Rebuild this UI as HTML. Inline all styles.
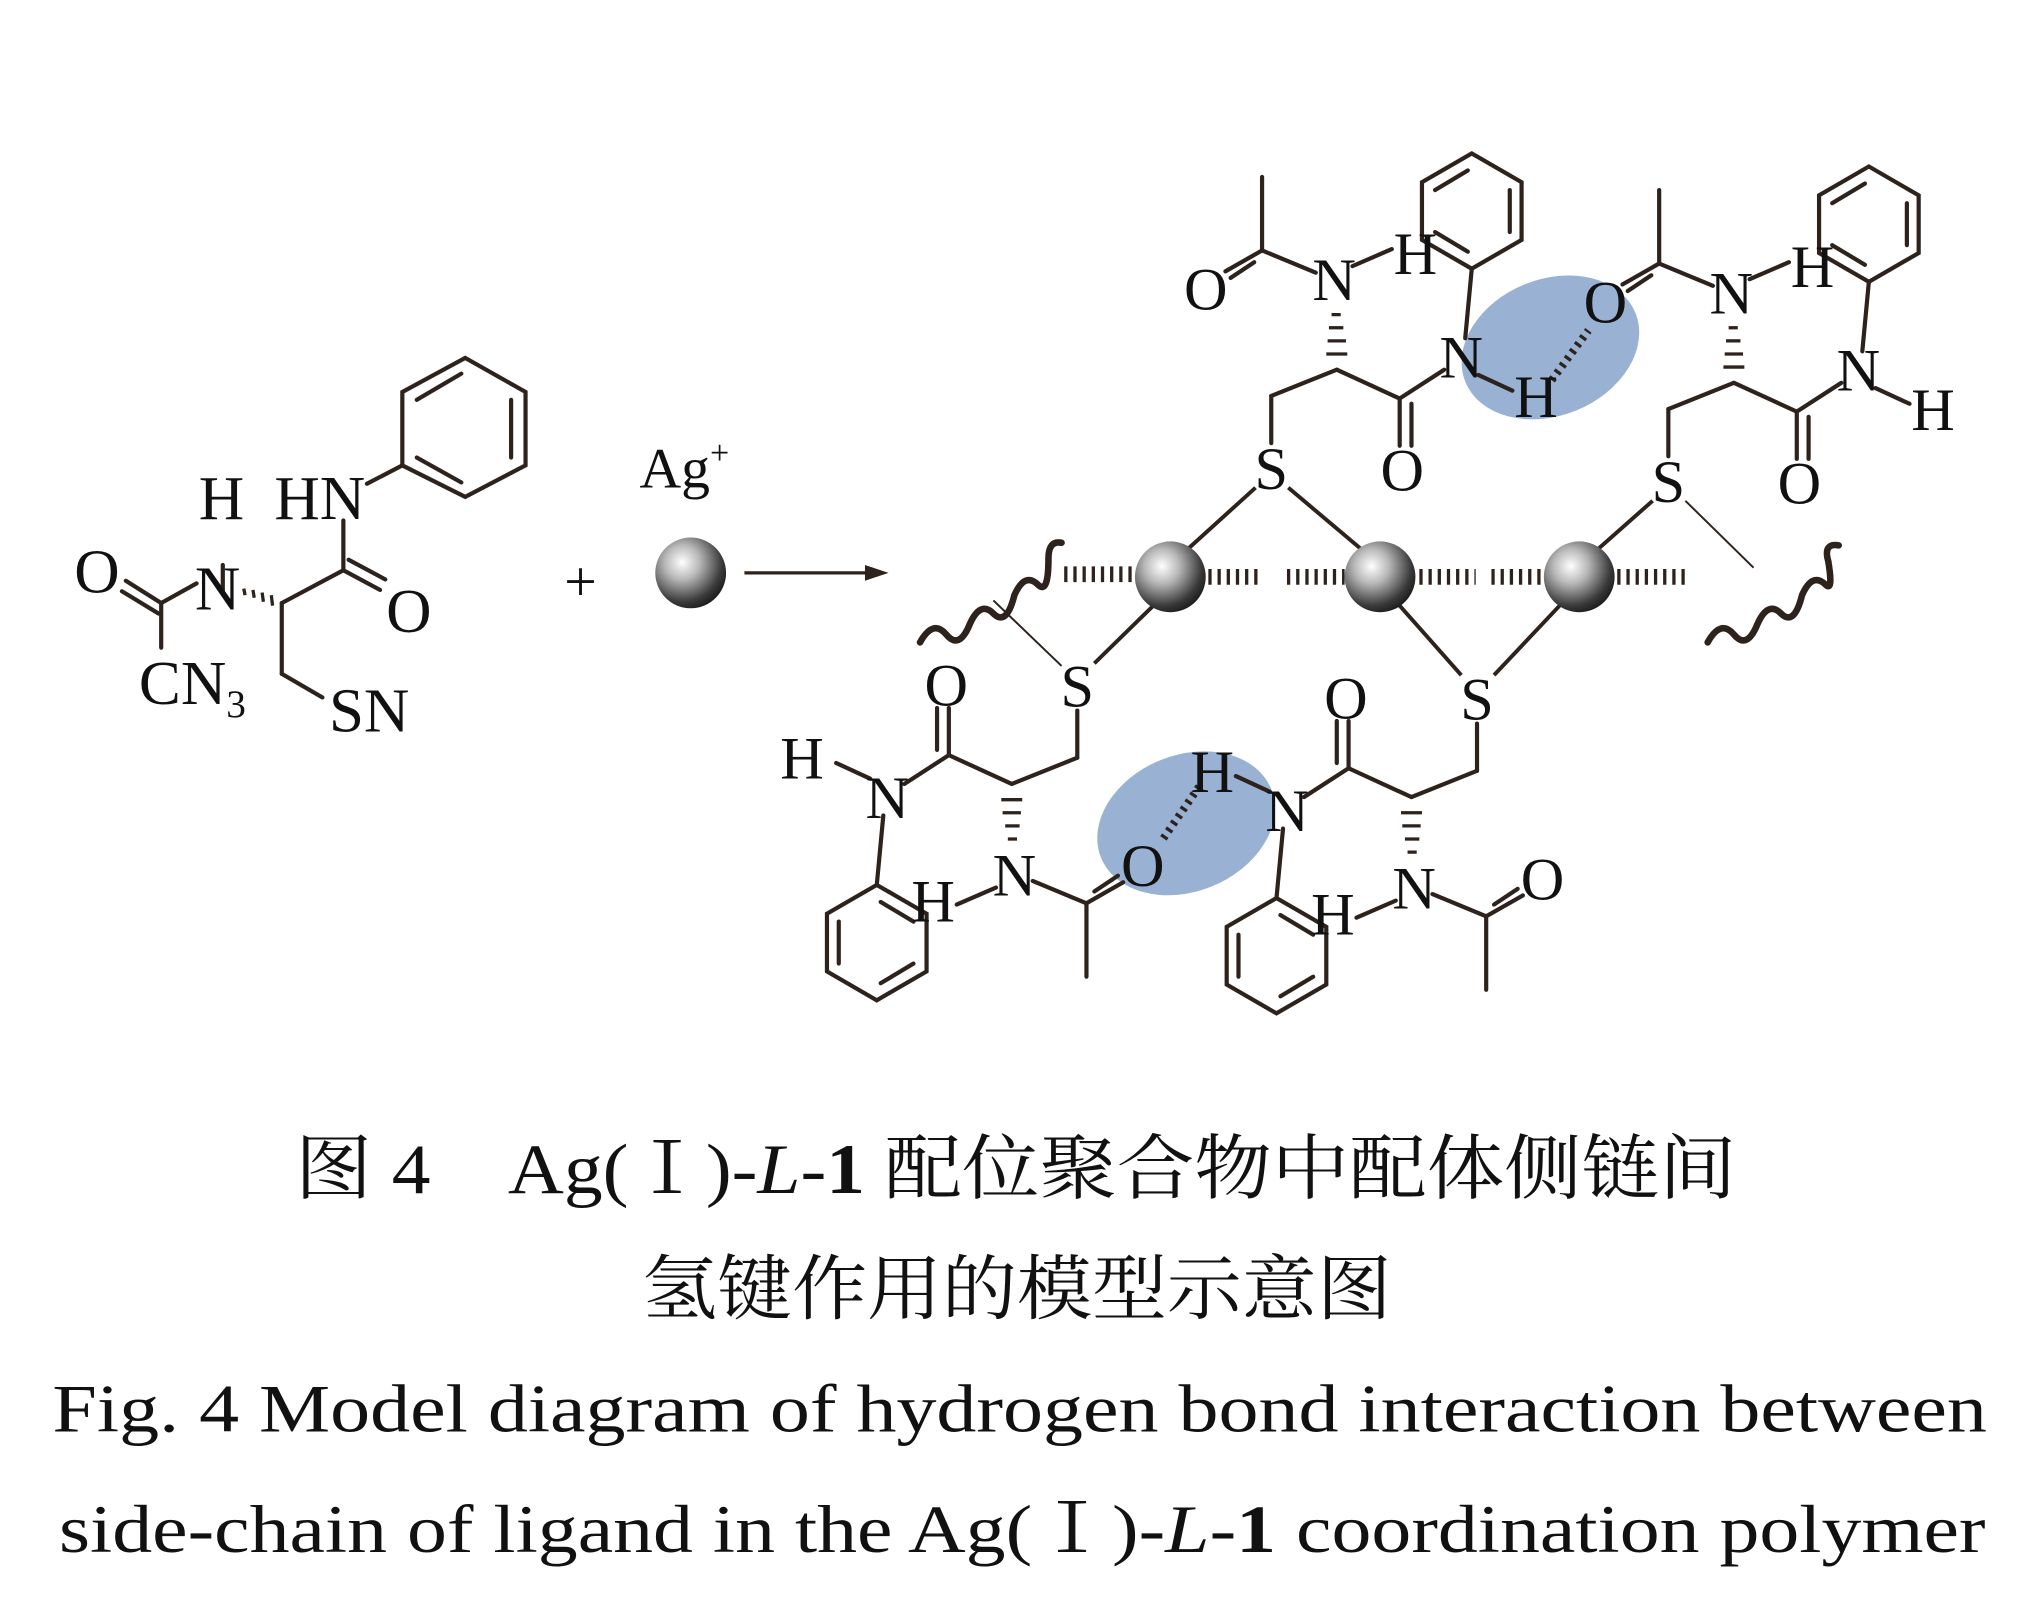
<!DOCTYPE html>
<html><head><meta charset="utf-8"><style>
html,body{margin:0;padding:0;background:#fff;}
svg{display:block;}
text{font-family:"Liberation Serif","Noto Serif CJK SC",serif;fill:#111;}
</style></head><body>
<svg width="2034" height="1602" viewBox="0 0 1552 1222" preserveAspectRatio="none" xmlns="http://www.w3.org/2000/svg">
<defs>
<radialGradient id="ball" cx="0.38" cy="0.35" r="0.7">
<stop offset="0" stop-color="#ffffff"/><stop offset="0.35" stop-color="#b8b8b8"/><stop offset="0.8" stop-color="#3a3a3a"/><stop offset="1" stop-color="#1a1a1a"/>
</radialGradient>
<g id="unitB" stroke="#2e221c" stroke-width="3.2" fill="none" stroke-linecap="round">
<line x1="963" y1="135" x2="963" y2="191"/>
<line x1="963" y1="191" x2="935" y2="207"/>
<line x1="957" y1="200" x2="939" y2="212"/>
<line x1="963" y1="191" x2="1004" y2="208"/>
<line x1="1032" y1="203" x2="1062" y2="190"/>
<line x1="970" y1="302" x2="1020" y2="282"/>
<line x1="970" y1="302" x2="970" y2="338"/>
<line x1="1020" y1="282" x2="1068" y2="304"/>
<line x1="1068" y1="304" x2="1068" y2="340"/>
<line x1="1077" y1="308" x2="1077" y2="340"/>
<line x1="1068" y1="304" x2="1102" y2="282"/>
<line x1="1118" y1="258" x2="1123" y2="205"/>
<line x1="1128" y1="286" x2="1154" y2="298"/>
<polygon points="1123,205 1085,183 1085,139 1123,117 1161,139 1161,183"/>
<line x1="1095" y1="145" x2="1120" y2="130"/>
<line x1="1152" y1="145" x2="1152" y2="177"/>
<line x1="1095" y1="177" x2="1120" y2="192"/>
</g>
<g id="wedgeT" stroke="#2e221c" stroke-width="2.5">
<line x1="1016" y1="240" x2="1023" y2="240"/>
<line x1="1014" y1="250" x2="1025" y2="250"/>
<line x1="1013" y1="260" x2="1027" y2="260"/>
<line x1="1012" y1="270" x2="1028" y2="270"/>
</g>
</defs>

<!-- Left molecule -->
<g stroke="#2e221c" stroke-width="3.2" fill="none" stroke-linecap="round">
<polygon points="355,273 401,299 401,355 355,379 307,355 307,299"/>
<line x1="318" y1="305" x2="352" y2="285"/>
<line x1="390" y1="305" x2="390" y2="349"/>
<line x1="318" y1="349" x2="352" y2="368"/>
<line x1="280" y1="369" x2="307" y2="355"/>
<line x1="170" y1="431" x2="170" y2="452"/>
<line x1="123" y1="460" x2="96" y2="443"/>
<line x1="121" y1="468" x2="93" y2="451"/>
<line x1="123" y1="460" x2="150" y2="445"/>
<line x1="123" y1="460" x2="123" y2="494"/>
<line x1="215" y1="460" x2="262" y2="435"/>
<line x1="262" y1="435" x2="262" y2="397"/>
<line x1="262" y1="435" x2="290" y2="450"/>
<line x1="266" y1="427" x2="294" y2="442"/>
<line x1="215" y1="460" x2="215" y2="514"/>
<line x1="215" y1="514" x2="246" y2="532"/>
</g>
<g stroke="#2e221c" stroke-width="2.5">
<line x1="186" y1="449" x2="187" y2="454"/><line x1="193" y1="450" x2="194" y2="456"/><line x1="200" y1="452" x2="201" y2="459"/><line x1="207" y1="454" x2="208" y2="462"/>
</g>
<text x="169" y="396" font-size="48" text-anchor="middle">H</text>
<text x="244" y="396" font-size="48" text-anchor="middle">HN</text>
<text x="74" y="452" font-size="48" text-anchor="middle">O</text>
<text x="166" y="465" font-size="48" text-anchor="middle">N</text>
<text x="312" y="482" font-size="48" text-anchor="middle">O</text>
<text x="106" y="537" font-size="48">CN<tspan font-size="30" dy="10">3</tspan></text>
<text x="251" y="558" font-size="48">SN</text>

<!-- plus, Ag+, arrow -->
<text x="443" y="458" font-size="44" text-anchor="middle">+</text>
<text x="488" y="372" font-size="44">Ag<tspan font-size="26" dy="-18">+</tspan></text>
<circle cx="527" cy="437" r="27" fill="url(#ball)"/>
<line x1="568" y1="437" x2="665" y2="437" stroke="#2e221c" stroke-width="2.5"/>
<polygon points="678,437 660,431 660,443" fill="#2e221c"/>

<!-- blue ellipses -->
<ellipse cx="1183" cy="265" rx="70" ry="52" transform="rotate(-22 1183 265)" fill="#7f9fc8" opacity="0.8"/>
<ellipse cx="905" cy="628" rx="70" ry="52" transform="rotate(-22 905 628)" fill="#7f9fc8" opacity="0.8"/>

<!-- units -->
<use href="#unitB"/>
<use href="#wedgeT"/>
<use href="#unitB" transform="translate(303,10)"/>
<use href="#wedgeT" transform="translate(303,10)"/>
<g transform="rotate(180 896 440)"><use href="#unitB"/><use href="#wedgeT"/></g>
<g transform="translate(305,10)"><g transform="rotate(180 896 440)"><use href="#unitB"/><use href="#wedgeT"/></g></g>

<!-- S bonds to Ag -->
<g stroke="#2e221c" stroke-width="3" fill="none">
<line x1="958" y1="372" x2="905" y2="420"/>
<line x1="983" y1="372" x2="1040" y2="420"/>
<line x1="1261" y1="382" x2="1218" y2="420"/>
<line x1="835" y1="506" x2="880" y2="462"/>
<line x1="1115" y1="515" x2="1068" y2="462"/>
<line x1="1140" y1="515" x2="1190" y2="462"/>
</g>
<g stroke="#2e221c" stroke-width="1.5">
<line x1="1286" y1="382" x2="1338" y2="433"/>
<line x1="758" y1="458" x2="810" y2="508"/>
</g>
<!-- wavy -->
<path d="M702,490 q10,-18 20,-6 q10,12 18,-8 q8,-18 18,-8 q10,10 16,-14 q8,-18 18,-8 q8,8 8,-20 q0,-14 10,-12" stroke="#2e221c" stroke-width="5" fill="none" stroke-linecap="round"/>
<path d="M1303,490 q10,-18 20,-6 q10,12 18,-8 q8,-18 18,-8 q10,10 16,-14 q8,-18 18,-8 q6,6 2,-18 q-4,-14 8,-12" stroke="#2e221c" stroke-width="5" fill="none" stroke-linecap="round"/>
<!-- dotted Ag-Ag -->
<g stroke="#2e221c" stroke-width="12" stroke-dasharray="2.5,4.5" fill="none">
<line x1="812" y1="438" x2="866" y2="438"/>
<line x1="922" y1="440" x2="962" y2="440"/>
<line x1="982" y1="440" x2="1026" y2="440"/>
<line x1="1083" y1="440" x2="1126" y2="440"/>
<line x1="1138" y1="440" x2="1178" y2="440"/>
<line x1="1234" y1="440" x2="1290" y2="440"/>
</g>
<circle cx="893" cy="440" r="27" fill="url(#ball)"/>
<circle cx="1053" cy="440" r="27" fill="url(#ball)"/>
<circle cx="1205" cy="440" r="27" fill="url(#ball)"/>
<!-- H bonds -->
<g stroke="#2e221c" stroke-width="6" stroke-dasharray="2.5,4" fill="none">
<line x1="1184" y1="290" x2="1212" y2="252"/>
<line x1="915" y1="600" x2="886" y2="642"/>
</g>

<!-- atom labels top unit 1 -->
<g font-size="46" text-anchor="middle">
<text x="920" y="236">O</text><text x="1018" y="229">N</text><text x="1080" y="209">H</text>
<text x="1115" y="288">N</text><text x="1172" y="318">H</text>
<text x="970" y="373">S</text><text x="1070" y="374">O</text>
<!-- top unit 2 -->
<text x="1225" y="246">O</text><text x="1321" y="239">N</text><text x="1383" y="219">H</text>
<text x="1418" y="298">N</text><text x="1475" y="328">H</text>
<text x="1273" y="383">S</text><text x="1373" y="384">O</text>
<!-- bottom unit 1 -->
<text x="872" y="676">O</text><text x="774" y="683">N</text><text x="712" y="703">H</text>
<text x="677" y="624">N</text><text x="612" y="594">H</text>
<text x="822" y="539">S</text><text x="722" y="538">O</text>
<!-- bottom unit 2 -->
<text x="1177" y="686">O</text><text x="1079" y="693">N</text><text x="1017" y="713">H</text>
<text x="982" y="634">N</text><text x="925" y="604">H</text>
<text x="1127" y="549">S</text><text x="1027" y="548">O</text>
</g>

<!-- captions -->
<text x="225" y="910" font-size="54" textLength="1100" lengthAdjust="spacingAndGlyphs">图 4　Ag(Ⅰ)-<tspan font-style="italic">L</tspan>-<tspan font-weight="bold">1</tspan> 配位聚合物中配体侧链间</text>
<text x="490" y="1002" font-size="54" textLength="572" lengthAdjust="spacingAndGlyphs">氢键作用的模型示意图</text>
<text x="40" y="1092" font-size="52" textLength="1476" lengthAdjust="spacingAndGlyphs">Fig. 4  Model diagram of hydrogen bond interaction between</text>
<text x="45" y="1184" font-size="52" textLength="1470" lengthAdjust="spacingAndGlyphs">side-chain of ligand in the Ag(Ⅰ)-<tspan font-style="italic">L</tspan>-<tspan font-weight="bold">1</tspan> coordination polymer</text>
</svg>
</body></html>
